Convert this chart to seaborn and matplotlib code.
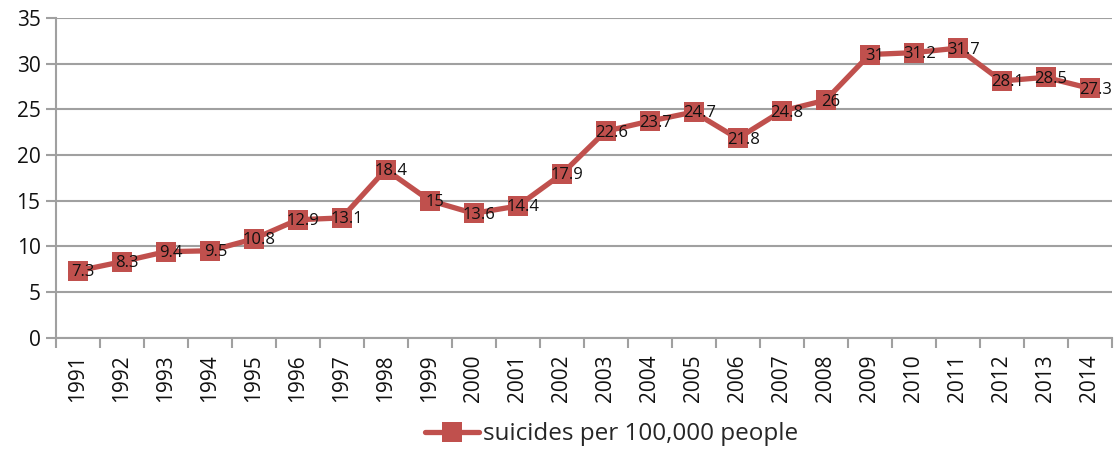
import pandas as pd
import seaborn as sns
import matplotlib.pyplot as plt
from matplotlib.ticker import FixedLocator

# Data
years = [str(y) for y in range(1991, 2015)]
rates = [7.3, 8.3, 9.4, 9.5, 10.8, 12.9, 13.1, 18.4, 15, 13.6, 14.4, 17.9,
         22.6, 23.7, 24.7, 21.8, 24.8, 26, 31, 31.2, 31.7, 28.1, 28.5, 27.3]
series_name = 'suicides per 100,000 people'

df = pd.DataFrame({'year': years, 'rate': rates})
df['pos'] = range(len(df))

sns.set_theme(style='white')
plt.rcParams['font.family'] = ['Open Sans', 'DejaVu Sans']

red = '#C0504D'
grid = '#A0A0A0'

fig, ax = plt.subplots(figsize=(11.16, 4.5), dpi=100)
fig.subplots_adjust(left=0.05, right=0.996, top=0.96, bottom=0.25)

sns.lineplot(data=df, x='pos', y='rate', ax=ax, color=red, linewidth=3.8,
             marker='s', markersize=14.5, markeredgewidth=0, legend=False)

# data labels
for p, v in zip(df['pos'], df['rate']):
    txt = f'{v:g}'
    ax.annotate(txt, (p, v), xytext=(4, -1), textcoords='offset points',
                ha='center', va='center', fontsize=12, color='#111111')

ax.set_xlim(-0.5, len(years) - 0.5)
ax.set_ylim(0, 35)
ax.set_yticks(range(0, 36, 5))
ax.set_xticks(df['pos'])
ax.set_xticklabels(years, rotation=90)
ax.xaxis.set_minor_locator(FixedLocator([i - 0.5 for i in range(len(years) + 1)]))
ax.tick_params(axis='x', which='major', length=0, pad=12, labelsize=15, colors='#111111')
ax.tick_params(axis='x', which='minor', length=7, width=1.5, color=grid, bottom=True)
ax.tick_params(axis='y', length=7, width=1.5, color=grid, left=True, labelsize=15,
               colors='#111111', pad=4)
ax.set_xlabel('')
ax.set_ylabel('')

ax.yaxis.grid(True, color=grid, linewidth=1.5)
ax.set_axisbelow(True)
for s in ['top', 'right']:
    ax.spines[s].set_visible(False)
ax.spines['left'].set_color(grid)
ax.spines['left'].set_linewidth(1.5)
ax.spines['bottom'].set_color(grid)
ax.spines['bottom'].set_linewidth(1.5)

line = ax.get_lines()[0]
fig.legend([line], [series_name], loc='center', bbox_to_anchor=(0.548, 0.035),
           frameon=False, fontsize=17.5, handlelength=2.2, handletextpad=0.15)

fig.savefig('out.png', dpi=100)
